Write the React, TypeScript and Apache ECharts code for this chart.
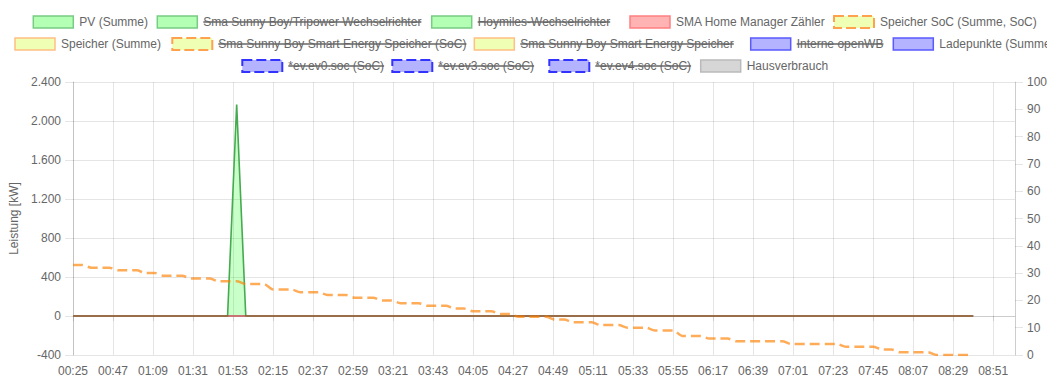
import React, { useEffect, useRef } from "react";
import * as echarts from "echarts";

// ---- time base ----
const startTime = "00:25";
const sampleStepMin = 5;
const axisSpanMin = 518;
const tickStepMin = 22;

// ---- series values (one value per 5-minute sample, starting 00:25) ----
const pvSum = [
  0, 0, 0, 0, 0, 0, 0, 0, 0, 0,
  0, 0, 0, 0, 0, 0, 0, 0, 2170, 0,
  0, 0, 0, 0, 0, 0, 0, 0, 0, 0,
  0, 0, 0, 0, 0, 0, 0, 0, 0, 0,
  0, 0, 0, 0, 0, 0, 0, 0, 0, 0,
  0, 0, 0, 0, 0, 0, 0, 0, 0, 0,
  0, 0, 0, 0, 0, 0, 0, 0, 0, 0,
  0, 0, 0, 0, 0, 0, 0, 0, 0, 0,
  0, 0, 0, 0, 0, 0, 0, 0, 0, 0,
  0, 0, 0, 0, 0, 0, 0, 0, 0, 0,
];
const gridMeter = [
  0, 0, 0, 0, 0, 0, 0, 0, 0, 0,
  0, 0, 0, 0, 0, 0, 0, 0, 0, 0,
  0, 0, 0, 0, 0, 0, 0, 0, 0, 0,
  0, 0, 0, 0, 0, 0, 0, 0, 0, 0,
  0, 0, 0, 0, 0, 0, 0, 0, 0, 0,
  0, 0, 0, 0, 0, 0, 0, 0, 0, 0,
  0, 0, 0, 0, 0, 0, 0, 0, 0, 0,
  0, 0, 0, 0, 0, 0, 0, 0, 0, 0,
  0, 0, 0, 0, 0, 0, 0, 0, 0, 0,
  0, 0, 0, 0, 0, 0, 0, 0, 0, 0,
];
const batteryPower = [
  0, 0, 0, 0, 0, 0, 0, 0, 0, 0,
  0, 0, 0, 0, 0, 0, 0, 0, 0, 0,
  0, 0, 0, 0, 0, 0, 0, 0, 0, 0,
  0, 0, 0, 0, 0, 0, 0, 0, 0, 0,
  0, 0, 0, 0, 0, 0, 0, 0, 0, 0,
  0, 0, 0, 0, 0, 0, 0, 0, 0, 0,
  0, 0, 0, 0, 0, 0, 0, 0, 0, 0,
  0, 0, 0, 0, 0, 0, 0, 0, 0, 0,
  0, 0, 0, 0, 0, 0, 0, 0, 0, 0,
  0, 0, 0, 0, 0, 0, 0, 0, 0, 0,
];
const chargePoints = [
  0, 0, 0, 0, 0, 0, 0, 0, 0, 0,
  0, 0, 0, 0, 0, 0, 0, 0, 0, 0,
  0, 0, 0, 0, 0, 0, 0, 0, 0, 0,
  0, 0, 0, 0, 0, 0, 0, 0, 0, 0,
  0, 0, 0, 0, 0, 0, 0, 0, 0, 0,
  0, 0, 0, 0, 0, 0, 0, 0, 0, 0,
  0, 0, 0, 0, 0, 0, 0, 0, 0, 0,
  0, 0, 0, 0, 0, 0, 0, 0, 0, 0,
  0, 0, 0, 0, 0, 0, 0, 0, 0, 0,
  0, 0, 0, 0, 0, 0, 0, 0, 0, 0,
];
const houseConsumption = [
  0, 0, 0, 0, 0, 0, 0, 0, 0, 0,
  0, 0, 0, 0, 0, 0, 0, 0, 0, 0,
  0, 0, 0, 0, 0, 0, 0, 0, 0, 0,
  0, 0, 0, 0, 0, 0, 0, 0, 0, 0,
  0, 0, 0, 0, 0, 0, 0, 0, 0, 0,
  0, 0, 0, 0, 0, 0, 0, 0, 0, 0,
  0, 0, 0, 0, 0, 0, 0, 0, 0, 0,
  0, 0, 0, 0, 0, 0, 0, 0, 0, 0,
  0, 0, 0, 0, 0, 0, 0, 0, 0, 0,
  0, 0, 0, 0, 0, 0, 0, 0, 0, 0,
];
const batterySoc = [
  33, 33, 32, 32, 32, 31, 31, 31, 30, 30,
  29, 29, 29, 28, 28, 28, 27, 27, 27, 26,
  26, 26, 24, 24, 24, 23, 23, 23, 22, 22,
  22, 21, 21, 21, 20, 20, 19, 19, 19, 18,
  18, 18, 17, 17, 16, 16, 16, 15, 15, 14,
  14, 14, 14, 13, 13, 12, 12, 12, 11, 11,
  11, 10, 10, 10, 9, 9, 9, 7, 7, 7,
  6, 6, 6, 5, 5, 5, 5, 5, 5, 4,
  4, 4, 4, 4, 4, 3, 3, 3, 3, 2,
  2, 1, 1, 1, 1, 0, 0, 0, 0, 0,
];

// ---- legend ----
const legendLabels = [
  "PV (Summe)",
  "Sma Sunny Boy/Tripower Wechselrichter",
  "Hoymiles-Wechselrichter",
  "SMA Home Manager Zähler",
  "Speicher SoC (Summe, SoC)",
  "Speicher (Summe)",
  "Sma Sunny Boy Smart Energy Speicher (SoC)",
  "Sma Sunny Boy Smart Energy Speicher",
  "Interne openWB",
  "Ladepunkte (Summe)",
  "*ev.ev0.soc (SoC)",
  "*ev.ev3.soc (SoC)",
  "*ev.ev4.soc (SoC)",
  "Hausverbrauch",
];
const legendHidden = [false, true, true, false, false, false, true, true, true, false, true, true, true, false];

// ---- axis ticks ----
const leftTicks = { min: -400, max: 2400, step: 400 };
const rightTicks = { min: 0, max: 100, step: 10 };

// layout / style (not data)
const legendRow = [0, 0, 0, 0, 0, 1, 1, 1, 1, 1, 2, 2, 2, 2];
const legendBoxX = [33.3, 157.3, 431.7, 630, 834, 15, 172.3, 474.3, 750.7, 893.3, 242.3, 392.3, 549.3, 700.7];
const legendRowY = [22, 44, 66];
const legendStyle = [
  { fill: "#b3ffb3", stroke: "#78cc84", dash: false },
  { fill: "#b3ffb3", stroke: "#78cc84", dash: false },
  { fill: "#b3ffb3", stroke: "#78cc84", dash: false },
  { fill: "#ffb3b3", stroke: "#ff8080", dash: false },
  { fill: "#efffb3", stroke: "#ffa24f", dash: true },
  { fill: "#efffb3", stroke: "#ffbf85", dash: false },
  { fill: "#efffb3", stroke: "#ffa24f", dash: true },
  { fill: "#efffb3", stroke: "#ffbf85", dash: false },
  { fill: "#b3b3ff", stroke: "#5a5aff", dash: false },
  { fill: "#b3b3ff", stroke: "#5a5aff", dash: false },
  { fill: "#b3b3ff", stroke: "#3333ff", dash: true },
  { fill: "#b3b3ff", stroke: "#3333ff", dash: true },
  { fill: "#b3b3ff", stroke: "#3333ff", dash: true },
  { fill: "#d6d6d6", stroke: "#bababa", dash: false },
];

const FONT_FAMILY = '"Liberation Sans", Arial, Helvetica, sans-serif';
const TEXT_COLOR = "#666";
const GRID_COLOR = "rgba(0,0,0,0.1)";

function startMinutes(): number {
  const [h, m] = startTime.split(":").map(Number);
  return h * 60 + m;
}
function clock(v: number): string {
  const t = Math.round(startMinutes() + v);
  const h = Math.floor(t / 60) % 24;
  const m = t % 60;
  return String(h).padStart(2, "0") + ":" + String(m).padStart(2, "0");
}
function deNumber(v: number): string {
  const s = Math.abs(v).toString().replace(/\B(?=(\d{3})+(?!\d))/g, ".");
  return (v < 0 ? "-" : "") + s;
}
function toPairs(values: number[]): number[][] {
  return values.map((v, i) => [i * sampleStepMin, v]);
}

export default function App() {
  const ref = useRef<HTMLDivElement>(null);

  useEffect(() => {
    if (!ref.current) return;
    const chart = echarts.init(ref.current, undefined, { renderer: "svg" });

    const font = `12px ${FONT_FAMILY}`;
    const ctx = document.createElement("canvas").getContext("2d");
    if (ctx) ctx.font = font;

    const graphics: any[] = [];
    legendLabels.forEach((label, i) => {
      const st = legendStyle[i];
      const cy = legendRowY[legendRow[i]];
      const bx = legendBoxX[i];
      graphics.push({
        type: "rect",
        shape: { x: bx, y: cy - 6, width: 40, height: 12 },
        style: {
          fill: st.fill,
          stroke: st.stroke,
          lineWidth: st.dash ? 2 : 1.5,
          lineDash: st.dash ? [10, 4] : null,
        },
        silent: true,
      });
      const tx = bx + 46;
      graphics.push({
        type: "text",
        style: {
          text: label,
          x: tx,
          y: cy - 0.5,
          font,
          fill: TEXT_COLOR,
          align: "left",
          verticalAlign: "middle",
        },
        silent: true,
      });
      if (legendHidden[i]) {
        const w = ctx ? ctx.measureText(label).width : label.length * 6;
        graphics.push({
          type: "line",
          shape: { x1: tx, y1: cy, x2: tx + w, y2: cy },
          style: { stroke: TEXT_COLOR, lineWidth: 1.5 },
          silent: true,
        });
      }
    });

    const option: any = {
      animation: false,
      backgroundColor: "#fff",
      textStyle: { fontFamily: FONT_FAMILY },
      grid: {
        left: 73,
        right: 32,
        top: 82,
        bottom: 33,
        containLabel: false,
        outerBoundsMode: "none",
      },
      xAxis: {
        type: "value",
        min: 0,
        max: axisSpanMin,
        interval: tickStepMin,
        axisLine: { show: true, lineStyle: { color: GRID_COLOR } },
        axisTick: { show: true, length: 5, lineStyle: { color: GRID_COLOR } },
        splitLine: { show: true, lineStyle: { color: GRID_COLOR } },
        axisLabel: {
          color: TEXT_COLOR,
          fontSize: 12,
          fontFamily: FONT_FAMILY,
          margin: 10,
          showMaxLabel: false,
          formatter: (v: number) => clock(v),
        },
      },
      yAxis: [
        {
          type: "value",
          min: leftTicks.min,
          max: leftTicks.max,
          interval: leftTicks.step,
          name: "Leistung [kW]",
          nameLocation: "middle",
          nameGap: 51,
          nameTextStyle: { color: TEXT_COLOR, fontSize: 12, fontFamily: FONT_FAMILY },
          axisLine: { show: true, lineStyle: { color: "rgba(0,0,0,0.15)" } },
          axisTick: { show: true, length: 8, lineStyle: { color: GRID_COLOR } },
          splitLine: { show: true, lineStyle: { color: GRID_COLOR } },
          axisLabel: {
            color: TEXT_COLOR,
            fontSize: 12,
            fontFamily: FONT_FAMILY,
            margin: 12,
            formatter: (v: number) => deNumber(v),
          },
        },
        {
          type: "value",
          position: "right",
          min: rightTicks.min,
          max: rightTicks.max,
          interval: rightTicks.step,
          axisLine: { show: true, lineStyle: { color: GRID_COLOR } },
          axisTick: { show: true, length: 8, lineStyle: { color: GRID_COLOR } },
          splitLine: { show: false },
          axisLabel: {
            color: TEXT_COLOR,
            fontSize: 12,
            fontFamily: FONT_FAMILY,
            margin: 12,
          },
        },
      ],
      graphic: graphics,
      series: [
        {
          name: "Speicher (Summe)",
          type: "line",
          data: toPairs(batteryPower),
          showSymbol: false,
          lineStyle: { color: "#ffbf85", width: 2 },
        },
        {
          name: "Ladepunkte (Summe)",
          type: "line",
          data: toPairs(chargePoints),
          showSymbol: false,
          lineStyle: { color: "#5a5aff", width: 2 },
        },
        {
          name: "Hausverbrauch",
          type: "line",
          data: toPairs(houseConsumption),
          showSymbol: false,
          lineStyle: { color: "#bababa", width: 2 },
        },
        {
          name: "PV (Summe)",
          type: "line",
          data: toPairs(pvSum),
          showSymbol: false,
          lineStyle: { color: "#46aa50", width: 1.6 },
          areaStyle: { color: "rgba(0,255,0,0.3)", origin: 0 },
        },
        {
          name: "SMA Home Manager Zähler",
          type: "line",
          data: toPairs(gridMeter),
          showSymbol: false,
          lineStyle: { color: "rgba(220,30,30,0.45)", width: 2 },
        },
        {
          name: "Speicher SoC (Summe, SoC)",
          type: "line",
          yAxisIndex: 1,
          data: toPairs(batterySoc),
          showSymbol: false,
          smooth: 0.3,
          smoothMonotone: "x",
          lineStyle: { color: "rgba(255,128,0,0.65)", width: 2.5, type: [10, 5] },
        },
      ],
    };

    chart.setOption(option);
    return () => chart.dispose();
  }, []);

  return (
    <div
      ref={ref}
      style={{ position: "absolute", left: 0, top: 0, width: 1047, height: 388, overflow: "hidden" }}
    />
  );
}
